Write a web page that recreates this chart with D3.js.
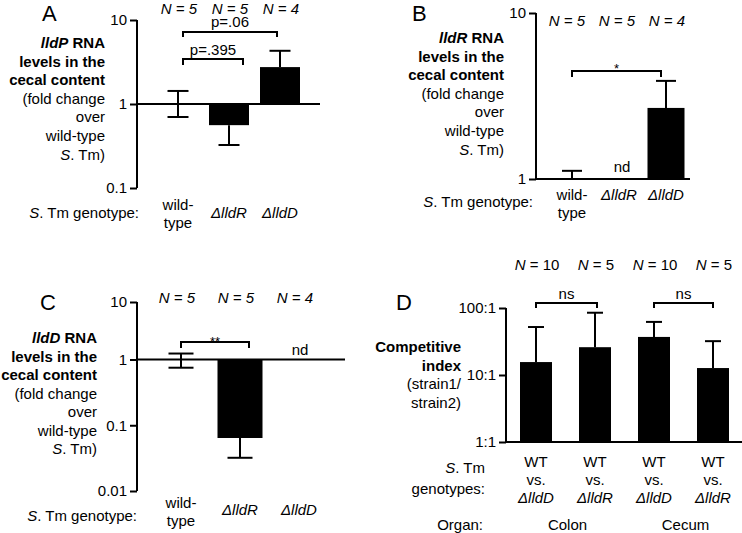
<!DOCTYPE html>
<html><head><meta charset="utf-8">
<script src="https://cdn.jsdelivr.net/npm/d3@7"></script>
<style>
body{margin:0;background:#fff}
svg{display:block}
text{font-family:"Liberation Sans",Arial,sans-serif;fill:#000}
</style>
</head><body>
<svg id="chart" width="742" height="533"></svg>
<script>
// ---------- DATA ----------
const genotypes = ["wild-type", "ΔlldR", "ΔlldD"];
const genotypeN = [5, 5, 4];

// Panel A: lldP RNA (fold change)
const lldPMean  = [1, 0.56, 2.75];
const lldPUpper = [1.43, null, 4.3];
const lldPLower = [0.70, 0.325, null];

// Panel B: lldR RNA (fold change); ΔlldR not detected
const lldRMean  = [1, null, 2.68];
const lldRUpper = [1.12, null, 3.9];
const lldRLower = [null, null, null];
const lldRnd    = [false, true, false];

// Panel C: lldD RNA (fold change); ΔlldD not detected
const lldDMean  = [1, 0.064, null];
const lldDUpper = [1.27, null, null];
const lldDLower = [0.75, 0.032, null];
const lldDnd    = [false, false, true];

// Panel D: competitive index
const ciStrain = ["ΔlldD", "ΔlldR", "ΔlldD", "ΔlldR"];
const ciOrgan  = ["Colon", "Colon", "Cecum", "Cecum"];
const ciN      = [10, 5, 10, 5];
const ciMean   = [15.6, 26, 37, 12.7];
const ciUpper  = [52, 85, 62, 32];

const ticksA = [0.1, 1, 10];   const tickLabelsA = ["0.1", "1", "10"];
const ticksB = [1, 10];        const tickLabelsB = ["1", "10"];
const ticksC = [0.01, 0.1, 1, 10]; const tickLabelsC = ["0.01", "0.1", "1", "10"];
const ticksD = [1, 10, 100];   const tickLabelsD = ["1:1", "10:1", "100:1"];

// ---------- HELPERS ----------
const svg = d3.select("#chart");
const FS = 15;

function rich(g, x, y, parts, anchor, size) {
  const t = g.append("text").attr("x", x).attr("y", y)
    .attr("text-anchor", anchor || "middle").attr("font-size", size || FS);
  parts.forEach(p => {
    if (typeof p === "string") p = {t: p};
    t.append("tspan").text(p.t)
      .attr("font-weight", p.b ? "bold" : "normal")
      .attr("font-style", p.i ? "italic" : "normal");
  });
  return t;
}

function minorTicks(domain) {
  const out = [];
  const lo = Math.round(Math.log10(domain[0])), hi = Math.round(Math.log10(domain[domain.length-1]));
  for (let e = lo; e < hi; e++) for (let k = 2; k <= 9; k++) out.push(k * Math.pow(10, e));
  return out;
}

function drawAxis(g, y, axisX, ticks, labels) {
  const ax = g.append("g").attr("transform", `translate(${axisX},0)`);
  ax.call(d3.axisLeft(y).tickValues(minorTicks(y.domain())).tickSize(4).tickSizeOuter(0).tickFormat(""))
    .call(s => s.select(".domain").remove())
    .call(s => s.selectAll("line").attr("stroke-width", 1.5));
  ax.call(d3.axisLeft(y).tickValues(ticks).tickSize(7).tickSizeOuter(0).tickPadding(3)
      .tickFormat((d, i) => labels[i]))
    .call(s => s.select(".domain").attr("stroke-width", 2).attr("d", `M0,${y.range()[0]}V${y.range()[y.range().length-1]}`))
    .call(s => s.selectAll(".tick line").attr("stroke-width", 2))
    .call(s => s.selectAll(".tick text").attr("font-size", FS).attr("font-family", null));
  ax.selectAll("text").attr("fill", "#000");
}

function leftLabel(g, x, y0, lines, step) {
  lines.forEach((ln, i) => rich(g, x, y0 + i * step, ln, "end"));
}

function drawBars(g, x, y, means, upper, lower, bw, cap, nd) {
  const base = y(1);
  means.forEach((m, i) => {
    const cx = x(genotypes[i]);
    if (nd && nd[i]) return;
    if (m == null) return;
    if (m !== 1) {
      g.append("rect").attr("x", cx - bw / 2).attr("width", bw)
        .attr("y", Math.min(y(m), base)).attr("height", Math.abs(y(m) - base)).attr("fill", "#000");
    }
    const ends = [];
    if (upper[i] != null) ends.push(upper[i]);
    if (lower && lower[i] != null) ends.push(lower[i]);
    ends.forEach(e => {
      g.append("line").attr("x1", cx).attr("x2", cx).attr("y1", y(m)).attr("y2", y(e))
        .attr("stroke", "#000").attr("stroke-width", 2);
      g.append("line").attr("x1", cx - cap / 2).attr("x2", cx + cap / 2).attr("y1", y(e)).attr("y2", y(e))
        .attr("stroke", "#000").attr("stroke-width", 2);
    });
  });
}

function bracket(g, x1, x2, yb, leg, label, ly, lsize) {
  g.append("path").attr("d", `M${x1},${yb + leg}V${yb}H${x2}V${yb + leg}`)
    .attr("fill", "none").attr("stroke", "#000").attr("stroke-width", 2);
  g.append("text").attr("x", (x1 + x2) / 2).attr("y", ly).attr("text-anchor", "middle")
    .attr("font-size", lsize || FS).text(label);
}

const fcLabel = (gene) => [
  [{t: gene, b: 1, i: 1}, {t: " RNA", b: 1}],
  [{t: "levels in the", b: 1}],
  [{t: "cecal content", b: 1}],
  ["(fold change"], ["over"], ["wild-type"],
  [{t: "S", i: 1}, ". Tm)"]
];

function genotypeLabels(g, x, yWild, ySingle) {
  genotypes.forEach(gt => {
    if (gt === "wild-type") {
      rich(g, x(gt), yWild, ["wild-"]);
      rich(g, x(gt), yWild + 18, ["type"]);
    } else {
      rich(g, x(gt), ySingle, [{t: gt, i: 1}]);
    }
  });
}

// ---------- PANEL A ----------
(function () {
  const g = svg.append("g");
  const y = d3.scaleLog().domain([0.1, 10]).range([188, 20]);
  const x = d3.scalePoint().domain(genotypes).range([178, 280]);
  const axisX = 137;
  g.append("text").attr("x", 42).attr("y", 21).attr("font-size", 22).text("A");
  leftLabel(g, 105, 48, fcLabel("lldP"), 18.6);
  g.append("line").attr("x1", axisX).attr("x2", 320).attr("y1", y(1)).attr("y2", y(1))
    .attr("stroke", "#000").attr("stroke-width", 2);
  drawBars(g, x, y, lldPMean, lldPUpper, lldPLower, 40, 21);
  drawAxis(g, y, axisX, ticksA, tickLabelsA);
  genotypes.forEach((gt, i) => rich(g, x(gt) + 1, 13.5, [{t: `N = ${genotypeN[i]}`, i: 1}]));
  bracket(g, x(genotypes[0]) + 5, x(genotypes[1]) + 14, 59, 6, "p=.395", 55);
  bracket(g, x(genotypes[0]) + 5, x(genotypes[2]) - 3, 32, 5, "p=.06", 26.5);
  rich(g, 139, 218, [{t: "S", i: 1}, ". Tm genotype:"], "end");
  genotypeLabels(g, x, 210, 218);
})();

// ---------- PANEL B ----------
(function () {
  const g = svg.append("g");
  const y = d3.scaleLog().domain([1, 10]).range([179, 13]);
  const x = d3.scalePoint().domain(genotypes).range([572, 666]);
  const axisX = 536;
  g.append("text").attr("x", 412).attr("y", 20.5).attr("font-size", 22).text("B");
  leftLabel(g, 504, 43, fcLabel("lldR"), 18.6);
  g.append("line").attr("x1", axisX).attr("x2", 690).attr("y1", y(1)).attr("y2", y(1))
    .attr("stroke", "#000").attr("stroke-width", 2);
  drawBars(g, x, y, lldRMean, lldRUpper, lldRLower, 37, 20, lldRnd);
  genotypes.forEach((gt, i) => { if (lldRnd[i]) rich(g, x(gt) + 3, 172, ["nd"]); });
  drawAxis(g, y, axisX, ticksB, tickLabelsB);
  genotypes.forEach((gt, i) => rich(g, x(gt) - 5 + i * 3, 26, [{t: `N = ${genotypeN[i]}`, i: 1}]));
  bracket(g, x(genotypes[0]), x(genotypes[2]) - 5, 71, 6, "*", 73, 13);
  rich(g, 533, 207, [{t: "S", i: 1}, ". Tm genotype:"], "end");
  genotypeLabels(g, x, 200, 200);
})();

// ---------- PANEL C ----------
(function () {
  const g = svg.append("g");
  const y = d3.scaleLog().domain([0.01, 1, 10]).range([491, 359.5, 302]);
  const x = d3.scalePoint().domain(genotypes).range([181, 299]);
  const axisX = 137;
  g.append("text").attr("x", 40).attr("y", 310).attr("font-size", 22).text("C");
  leftLabel(g, 97, 343, fcLabel("lldD"), 18.5);
  g.append("line").attr("x1", axisX).attr("x2", 345).attr("y1", y(1)).attr("y2", y(1))
    .attr("stroke", "#000").attr("stroke-width", 2);
  drawBars(g, x, y, lldDMean, lldDUpper, lldDLower, 45, 25, lldDnd);
  genotypes.forEach((gt, i) => { if (lldDnd[i]) rich(g, x(gt) + 1, 355, ["nd"]); });
  drawAxis(g, y, axisX, ticksC, tickLabelsC);
  genotypes.forEach((gt, i) => rich(g, x(gt) - 4, 303, [{t: `N = ${genotypeN[i]}`, i: 1}]));
  bracket(g, x(genotypes[0]), x(genotypes[1]) + 9, 342, 6, "**", 346, 13);
  rich(g, 137, 521, [{t: "S", i: 1}, ". Tm genotype:"], "end");
  genotypeLabels(g, x, 508, 515);
})();

// ---------- PANEL D ----------
(function () {
  const g = svg.append("g");
  const idx = ciStrain.map((d, i) => i);
  const y = d3.scaleLog().domain([1, 100]).range([442, 308]);
  const x = d3.scalePoint().domain(idx).range([536, 713]);
  const axisX = 506;
  g.append("text").attr("x", 396).attr("y", 310).attr("font-size", 22).text("D");
  leftLabel(g, 461, 352, [
    [{t: "Competitive", b: 1}], [{t: "index", b: 1}], ["(strain1/"], ["strain2)"]
  ], 18.7);
  idx.forEach(i => {
    const cx = x(i);
    g.append("rect").attr("x", cx - 16).attr("width", 32)
      .attr("y", y(ciMean[i])).attr("height", y(1) - y(ciMean[i])).attr("fill", "#000");
    g.append("line").attr("x1", cx).attr("x2", cx).attr("y1", y(ciMean[i])).attr("y2", y(ciUpper[i]))
      .attr("stroke", "#000").attr("stroke-width", 2);
    g.append("line").attr("x1", cx - 8).attr("x2", cx + 8).attr("y1", y(ciUpper[i])).attr("y2", y(ciUpper[i]))
      .attr("stroke", "#000").attr("stroke-width", 2);
  });
  g.append("line").attr("x1", axisX).attr("x2", 742).attr("y1", y(1)).attr("y2", y(1))
    .attr("stroke", "#000").attr("stroke-width", 2);
  drawAxis(g, y, axisX, ticksD, tickLabelsD);
  idx.forEach(i => rich(g, x(i) + 1, 270, [{t: "N", i: 1}, ` = ${ciN[i]}`]));
  bracket(g, x(0), x(1) + 2, 303, 5, "ns", 299);
  bracket(g, x(2), x(3), 303, 5, "ns", 299);
  rich(g, 485, 473, [{t: "S", i: 1}, ". Tm"], "end");
  rich(g, 485, 494, ["genotypes:"], "end");
  idx.forEach(i => {
    rich(g, x(i), 467, ["WT"]);
    rich(g, x(i), 485, ["vs."]);
    rich(g, x(i), 503, [{t: ciStrain[i], i: 1}]);
  });
  rich(g, 483, 530, ["Organ:"], "end");
  const organs = Array.from(new Set(ciOrgan));
  organs.forEach(o => {
    const members = idx.filter(i => ciOrgan[i] === o);
    const cx = d3.mean(members, i => x(i));
    rich(g, cx + 2, 530, [o]);
  });
})();
</script>
</body></html>
